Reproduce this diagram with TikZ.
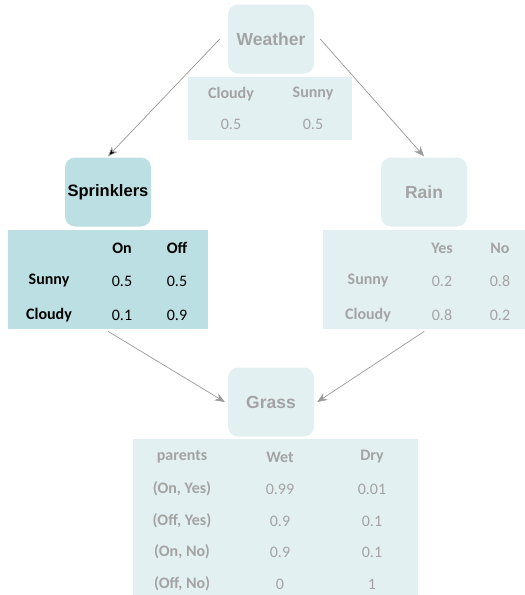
\documentclass[tikz,border=0pt]{standalone}
\usepackage{fontspec}
\setmainfont{Carlito}
\newfontfamily\headfont{Liberation Sans}
\usetikzlibrary{arrows.meta}
\definecolor{paleblue}{HTML}{E3F0F2}
\definecolor{tealblue}{HTML}{BCDFE3}
\definecolor{txtgrey}{HTML}{A3A3A3}
\definecolor{linegrey}{HTML}{9A9A9A}
\tikzset{
  varbox/.style={draw=none, fill=paleblue, rounded corners=10pt, minimum width=86pt,
    minimum height=69pt, font=\headfont\bfseries\fontsize{17.5}{19}\selectfont, text=txtgrey, inner sep=0pt},
  cpt/.style={draw=none, fill=paleblue, inner sep=0pt, anchor=north west},
  hd/.style={font=\bfseries\fontsize{16}{18}\selectfont, text=txtgrey, inner sep=0pt},
  val/.style={font=\fontsize{16}{18}\selectfont, text=txtgrey, inner sep=0pt},
  dark/.style={text=black},
  arr/.style={draw=linegrey, line width=0.7pt, -{Stealth[length=10pt,width=8pt,fill=linegrey]}}
}
\begin{document}
\begin{tikzpicture}[x=1pt,y=-1pt]
\useasboundingbox (0,0) rectangle (525,595);
\fill[white] (0,0) rectangle (525,595);

% Weather
\node[varbox] (weather) at (271,39) {Weather};
\node[cpt, minimum width=164pt, minimum height=63pt] (wtab) at (188,77) {};
\node[hd] (wc) at (231,94) {Cloudy};
\node[hd] (ws) at (313,94) {Sunny};
\node[val] (wc1) at (231,124) {0.5};
\node[val] (ws1) at (313,124) {0.5};

% Sprinklers
\node[varbox, fill=tealblue, text=black, font=\headfont\bfseries\fontsize{16.5}{18}\selectfont] (spr) at (108,192) {Sprinklers};
\node[cpt, fill=tealblue, minimum width=200pt, minimum height=99pt] (sprtab) at (8,230) {};
\node[hd, dark] (son) at (122,248) {On};
\node[hd, dark] (soff) at (177,248) {Off};
\node[hd, dark] (ssun) at (49,281) {Sunny};
\node[hd, dark] (sclo) at (49,315) {Cloudy};
\node[val, dark] (s11) at (122,281) {0.5};
\node[val, dark] (s12) at (177,281) {0.5};
\node[val, dark] (s21) at (122,315) {0.1};
\node[val, dark] (s22) at (177,315) {0.9};

% Rain
\node[varbox] (rain) at (424,192) {Rain};
\node[cpt, minimum width=202pt, minimum height=99pt] (raintab) at (323,230) {};
\node[hd] (ryes) at (442,248) {Yes};
\node[hd] (rno) at (500,248) {No};
\node[hd] (rsun) at (368,281) {Sunny};
\node[hd] (rclo) at (368,315) {Cloudy};
\node[val] (r11) at (442,281) {0.2};
\node[val] (r12) at (500,281) {0.8};
\node[val] (r21) at (442,315) {0.8};
\node[val] (r22) at (500,315) {0.2};

% Grass
\node[varbox] (grass) at (271,402) {Grass};
\node[cpt, minimum width=285pt, minimum height=156pt] (gtab) at (133,439) {};
\node[hd] (gp) at (182,457) {parents};
\node[hd] (gw) at (280,457) {Wet};
\node[hd] (gd) at (372,457) {Dry};
\node[hd] (g1) at (182,489) {(On, Yes)};
\node[hd] (g2) at (182,521) {(Off, Yes)};
\node[hd] (g3) at (182,552) {(On, No)};
\node[hd] (g4) at (182,584) {(Off, No)};
\node[val] (g1w) at (280,489) {0.99};
\node[val] (g1d) at (372,489) {0.01};
\node[val] (g2w) at (280,521) {0.9};
\node[val] (g2d) at (372,521) {0.1};
\node[val] (g3w) at (280,552) {0.9};
\node[val] (g3d) at (372,552) {0.1};
\node[val] (g4w) at (280,584) {0};
\node[val] (g4d) at (372,584) {1};

% Connectors
\draw[arr, -{Stealth[length=10pt,width=8pt,fill=black]}] ([xshift=-8pt]weather.west) -- ([yshift=1pt]spr.north);
\draw[arr] ([xshift=6pt]weather.east) -- ([yshift=1pt]rain.north);
\draw[arr] ([yshift=-2pt]sprtab.south) -- ([xshift=-3pt]grass.west);
\draw[arr] ([yshift=-2pt]raintab.south) -- ([xshift=3pt]grass.east);
\end{tikzpicture}
\end{document}
